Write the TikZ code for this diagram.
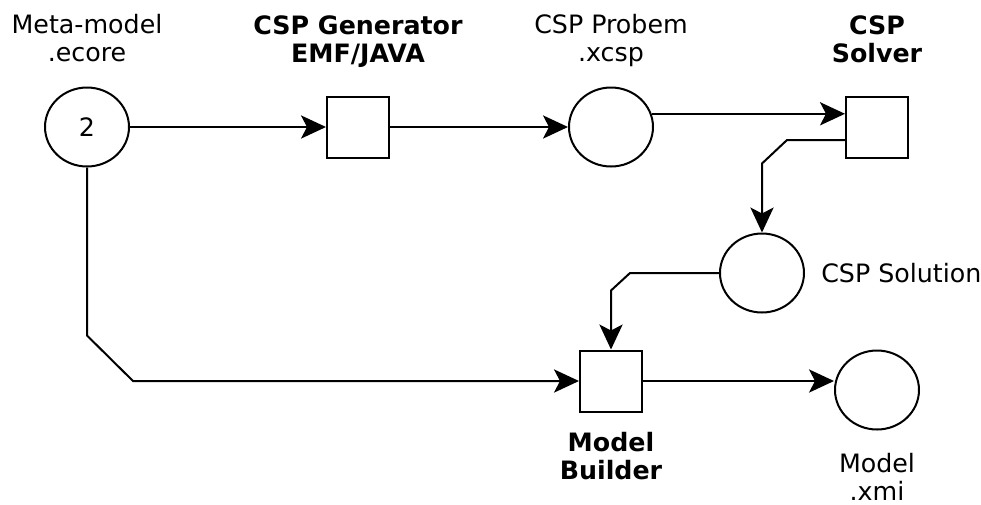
\documentclass[tikz,border=0pt]{standalone}
\usepackage{fontspec}
\setmainfont{DejaVu Sans}
\usetikzlibrary{arrows.meta,positioning,shapes.geometric}
\tikzset{
  place/.style={draw,ellipse,line width=0.05cm,minimum width=2.1cm,minimum height=1.975cm,inner sep=0pt},
  trans/.style={draw,rectangle,line width=0.05cm,minimum width=1.55cm,minimum height=1.525cm,inner sep=0pt},
  lbl/.style={align=center,inner sep=0pt,text depth=0pt},
  blbl/.style={lbl,font=\fontsize{18}{20}\selectfont\bfseries},
  arr/.style={-{Stealth[length=0.625cm,width=0.58cm,inset=0.15cm]},line width=0.05cm}
}

\begin{document}
\begin{tikzpicture}[every node/.style={font=\fontsize{18}{20}\selectfont}]
  \useasboundingbox (0,0) rectangle (24.525,-12.6);

  % places and transitions
  \node[place] (meta) at (2.175,-3.175) {2};
  \node[trans, right=4.9cm of meta] (gen) {};
  \node[place, right=4.45cm of gen] (prob) {};
  \node[trans, right=4.775cm of prob] (solv) {};
  \node[place, below=1.85cm of solv, xshift=-2.875cm] (sol) {};
  \node[trans, below=4.55cm of prob] (mb) {};
  \node[place, below=4.775cm of solv] (mdl) {};

  % labels
  \node[lbl, above=0.625cm of meta] (metalbl) {Meta-model\\.ecore};
  \node[blbl, above=0.825cm of gen] (genlbl) {CSP Generator\\EMF/JAVA};
  \node[lbl, above=0.625cm of prob] (problbl) {CSP Probem\\.xcsp};
  \node[blbl, above=0.825cm of solv] (solvlbl) {CSP\\Solver};
  \node[lbl, right=0.4cm of sol] (sollbl) {CSP Solution};
  \node[blbl, below=0.475cm of mb] (mblbl) {Model\\Builder};
  \node[lbl, below=0.55cm of mdl] (mdllbl) {Model\\.xmi};

  % arcs
  \draw[arr] (meta) -- (gen);
  \draw[arr] (gen) -- (prob);
  \draw[arr] (prob.18) -- (prob.18 -| solv.west);
  \draw[arr] ([yshift=-0.325cm]solv.west) -- ++(-1.45,0) -- ([yshift=1.725cm]sol.north) -- (sol.north);
  \draw[arr] (sol.west) -- ([xshift=0.475cm]mb.north |- sol.west) -- ([yshift=1.475cm]mb.north) -- (mb.north);
  \draw[arr] (meta.south) -- ++(0,-4.2) -- ([xshift=-11.15cm]mb.west) -- (mb.west);
  \draw[arr] (mb.east) -- (mb.east -| mdl.west);
\end{tikzpicture}
\end{document}
